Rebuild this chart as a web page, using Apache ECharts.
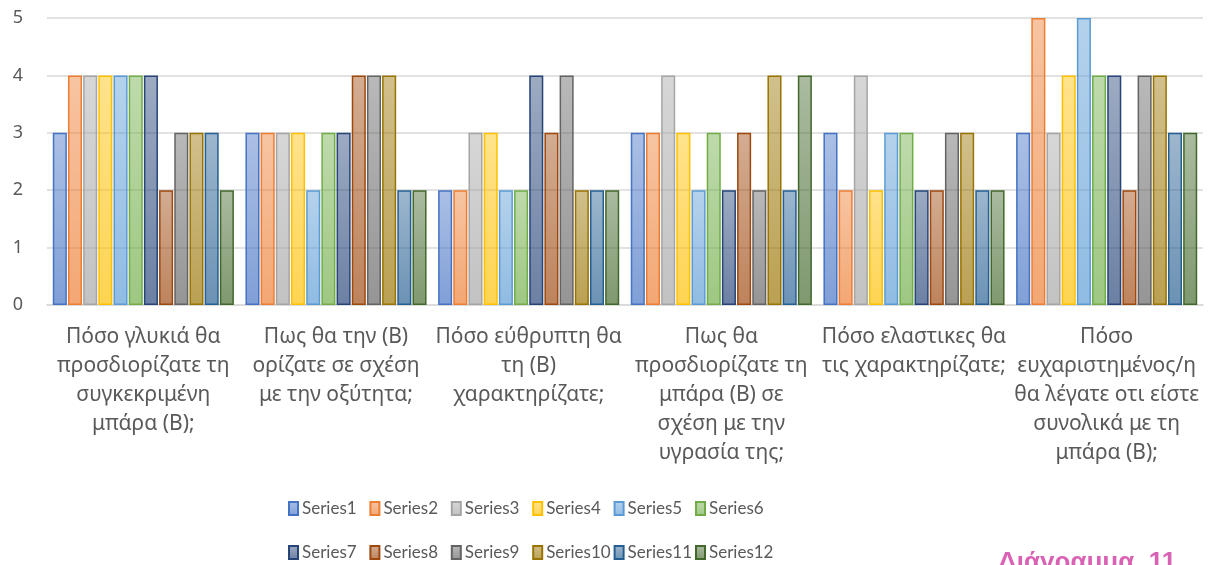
<!DOCTYPE html>
<html>
<head>
<meta charset="utf-8">
<script src="https://cdn.jsdelivr.net/npm/echarts@6/dist/echarts.min.js"></script>
<style>
  html, body { margin: 0; padding: 0; background: #fff; }
  #chart { width: 1215px; height: 565px; }
</style>
</head>
<body>
<div id="chart"></div>
<script>
// Questions (categories), already broken into display lines
const categories = [
  'Πόσο γλυκιά θα\nπροσδιορίζατε τη\nσυγκεκριμένη\nμπάρα (Β);',
  'Πως θα την (Β)\nορίζατε σε σχέση\nμε την οξύτητα;',
  'Πόσο εύθρυπτη θα\nτη (Β)\nχαρακτηρίζατε;',
  'Πως θα\nπροσδιορίζατε τη\nμπάρα (Β) σε\nσχέση με την\nυγρασία της;',
  'Πόσο ελαστικες θα\nτις χαρακτηρίζατε;',
  'Πόσο\nευχαριστημένος/η\nθα λέγατε οτι είστε\nσυνολικά με τη\nμπάρα (Β);'
];

const seriesNames = ['Series1','Series2','Series3','Series4','Series5','Series6',
                     'Series7','Series8','Series9','Series10','Series11','Series12'];

// Ratings per respondent series, one value per question
const series1  = [3, 3, 2, 3, 3, 3];
const series2  = [4, 3, 2, 3, 2, 5];
const series3  = [4, 3, 3, 4, 4, 3];
const series4  = [4, 3, 3, 3, 2, 4];
const series5  = [4, 2, 2, 2, 3, 5];
const series6  = [4, 3, 2, 3, 3, 4];
const series7  = [4, 3, 4, 2, 2, 4];
const series8  = [2, 4, 3, 3, 2, 2];
const series9  = [3, 4, 4, 2, 3, 4];
const series10 = [3, 4, 2, 4, 3, 4];
const series11 = [3, 2, 2, 2, 2, 3];
const series12 = [2, 2, 2, 4, 2, 3];

const seriesValues = [series1, series2, series3, series4, series5, series6,
                      series7, series8, series9, series10, series11, series12];

const yTicks = [0, 1, 2, 3, 4, 5];

const palette = ['#4472C4','#ED7D31','#A5A5A5','#FFC000','#5B9BD5','#70AD47',
                 '#264478','#9E480E','#636363','#997300','#255E91','#43682B'];

function rgba(hex, a) {
  const n = parseInt(hex.slice(1), 16);
  return 'rgba(' + ((n >> 16) & 255) + ',' + ((n >> 8) & 255) + ',' + (n & 255) + ',' + a + ')';
}

function gradientFill(hex) {
  return {
    type: 'linear', x: 0, y: 0, x2: 0, y2: 1,
    colorStops: [
      { offset: 0, color: rgba(hex, 0.45) },
      { offset: 1, color: rgba(hex, 0.68) }
    ]
  };
}

const textGrey = '#595959';

const chart = echarts.init(document.getElementById('chart'), null, { renderer: 'canvas' });

// Legend laid out as a grid: six fixed-width columns, two rows
const LEGEND_COLS = 6;
const legendLeft = 288;
const legendColWidth = 81.4;
const legendRowTops = [500, 544];

const legends = seriesNames.map((name, i) => ({
  data: [name],
  icon: 'rect',
  itemWidth: 9,
  itemHeight: 13,
  left: legendLeft + (i % LEGEND_COLS) * legendColWidth,
  top: legendRowTops[Math.floor(i / LEGEND_COLS)],
  padding: 0,
  textStyle: {
    color: textGrey,
    fontSize: 17,
    fontFamily: 'Lato, "Noto Sans", sans-serif',
    padding: [0, 0, 0, -1]
  }
}));

chart.setOption({
  animation: false,
  backgroundColor: '#ffffff',
  grid: { left: 47, right: 12, top: 18, bottom: 260, containLabel: false },
  legend: legends,
  xAxis: {
    type: 'category',
    data: categories,
    axisLine: { show: true, lineStyle: { color: '#d9d9d9', width: 1.5 } },
    axisTick: { show: false },
    axisLabel: {
      interval: 0,
      margin: 18,
      color: textGrey,
      fontSize: 21,
      lineHeight: 29,
      fontFamily: '"Noto Sans", sans-serif',
      align: 'center',
      verticalAlign: 'top'
    }
  },
  yAxis: {
    type: 'value',
    min: yTicks[0],
    max: yTicks[yTicks.length - 1],
    interval: 1,
    axisLine: { show: false },
    axisTick: { show: false },
    splitLine: { lineStyle: { color: '#d9d9d9', width: 1.5 } },
    axisLabel: {
      margin: 29,
      color: textGrey,
      fontSize: 18,
      fontFamily: '"Noto Sans", sans-serif',
      align: 'center'
    }
  },
  series: seriesNames.map((name, i) => ({
    name: name,
    type: 'bar',
    data: seriesValues[i],
    barGap: '8%',
    barCategoryGap: '6%',
    itemStyle: {
      color: gradientFill(palette[i]),
      borderColor: palette[i],
      borderWidth: 1.5
    }
  })),
  graphic: [{
    type: 'text',
    left: 998,
    top: 550,
    style: {
      text: 'Διάγραμμα  11',
      fill: '#DA62B4',
      fontSize: 26,
      fontWeight: 'bold',
      fontFamily: '"Liberation Sans", Arial, sans-serif'
    }
  }]
});
</script>
</body>
</html>
